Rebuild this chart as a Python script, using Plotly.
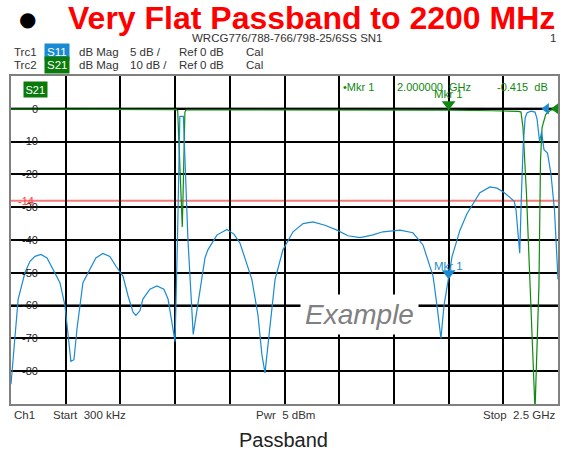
import plotly.graph_objects as go

# ---------------- data ----------------
# S21 (Trc2), frequency in GHz, magnitude in dB (10 dB/div)
s21_freq = [0.0003, 0.1, 0.3, 0.5, 0.7, 0.755, 0.762, 0.772, 0.783, 0.787, 0.795,
            0.800, 0.85, 1.0, 1.25, 1.5, 1.75, 2.0, 2.2, 2.3, 2.320, 2.331, 2.340,
            2.356, 2.372, 2.395, 2.413, 2.420, 2.427, 2.444, 2.468, 2.5]
s21_db = [-0.1, -0.15, -0.2, -0.2, -0.25, -0.25, -0.5, -18, -36, -25, -1,
          -0.3, -0.3, -0.3, -0.35, -0.35, -0.4, -0.415, -0.6, -0.7, -0.8, -1.0, -5.7,
          -26, -53.6, -92, -53.6, -16, -5.7, -1.7, -0.3, -0.3]

# S11 (Trc1), frequency in GHz, magnitude in dB (5 dB/div)
s11_freq = [0.0003, 0.018, 0.033, 0.064, 0.087, 0.110, 0.137, 0.165, 0.201, 0.224,
            0.247, 0.261, 0.274, 0.288, 0.302, 0.329, 0.361, 0.388, 0.420, 0.452,
            0.480, 0.512, 0.535, 0.558, 0.571, 0.590, 0.603, 0.635, 0.667, 0.699,
            0.718, 0.736, 0.750, 0.761, 0.772, 0.788, 0.809, 0.833, 0.856, 0.887,
            0.900, 0.941, 0.987, 1.019, 1.047, 1.101, 1.129, 1.147, 1.161, 1.175,
            1.193, 1.207, 1.243, 1.289, 1.335, 1.380, 1.435, 1.490, 1.540, 1.595,
            1.650, 1.700, 1.778, 1.837, 1.883, 1.929, 1.947, 1.965, 1.979, 2.000,
            2.016, 2.052, 2.084, 2.143, 2.189, 2.221, 2.249, 2.280, 2.300, 2.308,
            2.325, 2.333, 2.341, 2.350, 2.359, 2.377, 2.395, 2.404, 2.416, 2.425,
            2.436, 2.452, 2.468, 2.484, 2.5]
s11_db = [-42, -34.5, -29, -25, -23.25, -22.5, -22.2, -22.75, -24.9, -26.5,
          -30, -35, -38.5, -38.25, -33.5, -26.5, -24.5, -22.75, -22.05, -22.5,
          -24, -25.5, -28.5, -31, -31.5, -30.75, -29, -27.5, -27, -27.5,
          -29, -32.5, -35.5, -20, -1.15, -1.15, -20, -34.4, -29.35, -22.7,
          -21.5, -19.25, -18.4, -19.1, -20.5, -26, -31.5, -37.5, -40.25, -36,
          -30, -26, -21.5, -18.75, -17.5, -17.25, -17.75, -18.5, -19.35, -19.65,
          -19.25, -18.75, -18.5, -18.9, -20.75, -25.5, -30, -35, -30, -26,
          -22.5, -18.5, -16, -12.8, -11.9, -12.1, -12.65, -13.5, -14.1, -15.35,
          -22, -13, -5.5, -1.35, -0.6, -0.35, -0.5, -1.5, -5, -3.5,
          -6.25, -6.75, -10, -15.5, -26]

# marker 1
mkr_freq = [2.0]
mkr_s21 = [-0.415]
mkr_s11 = [-26]

# reference level indicators (right edge, 0 dB)
ref_s11_freq = [2.447]
ref_s21_freq = [2.491]
ref_level = [0]

limit_s11 = -14
s21_ticks = [0, -10, -20, -30, -40, -50, -60, -70, -80]
f_start, f_stop = 0.0003, 2.5

BLUE = "#1a8ad2"
GREEN = "#0e8a0e"
GREEN_BOX = "#0a7a0a"
FONT = "Liberation Sans, Arial, sans-serif"

W, H = 565, 452
L, R, T, B = 11, 7, 76, 48
PW, PH = W - L - R, H - T - B


def px(x):
    return (x - L) / PW


def py(y):
    return (H - B - y) / PH


fig = go.Figure()

fig.add_trace(go.Scatter(x=s11_freq, y=s11_db, yaxis="y2", mode="lines",
                         line=dict(color=BLUE, width=1.2), name="S11"))
fig.add_trace(go.Scatter(x=s21_freq, y=s21_db, yaxis="y", mode="lines",
                         line=dict(color=GREEN, width=1.2), name="S21"))

# markers (tip pointing at the data point)
fig.add_trace(go.Scatter(x=mkr_freq, y=mkr_s21, yaxis="y", mode="markers",
                         marker=dict(symbol="triangle-up", angle=180, size=12,
                                     color=GREEN, standoff=6), cliponaxis=False))
fig.add_trace(go.Scatter(x=mkr_freq, y=mkr_s11, yaxis="y2", mode="markers",
                         marker=dict(symbol="triangle-up", angle=180, size=12,
                                     color=BLUE, standoff=6), cliponaxis=False))
fig.add_trace(go.Scatter(x=ref_s11_freq, y=ref_level, yaxis="y2", mode="markers",
                         marker=dict(symbol="triangle-left", size=10, color=BLUE),
                         cliponaxis=False))
fig.add_trace(go.Scatter(x=ref_s21_freq, y=ref_level, yaxis="y", mode="markers",
                         marker=dict(symbol="triangle-left", size=10, color=GREEN),
                         cliponaxis=False))

fig.update_layout(
    width=W, height=H, margin=dict(l=L, r=R, t=T, b=B, pad=0),
    template="none", showlegend=False,
    paper_bgcolor="white", plot_bgcolor="white",
    font=dict(family=FONT, size=11, color="#333333"),
    xaxis=dict(range=[f_start, f_stop], tick0=f_start, dtick=(f_stop - f_start) / 10,
               showticklabels=False, ticks="", showgrid=True, gridcolor="black",
               gridwidth=1.5, zeroline=False, showline=True, linecolor="#808080",
               linewidth=2, mirror=True, automargin=False),
    yaxis=dict(range=[-90, 10], dtick=10, showticklabels=False, ticks="",
               showgrid=True, gridcolor="black", gridwidth=1.5, zeroline=False,
               showline=True, linecolor="#808080", linewidth=2, mirror=True,
               automargin=False),
    yaxis2=dict(range=[-45, 5], overlaying="y", showgrid=False, zeroline=False,
                showticklabels=False, ticks="", showline=False, automargin=False),
    yaxis3=dict(range=[-90, 10], overlaying="y", anchor="free", position=px(38),
                side="left", showgrid=False, zeroline=False, showline=False,
                ticks="", tickmode="array", tickvals=s21_ticks,
                ticktext=[str(v) for v in s21_ticks],
                tickfont=dict(family=FONT, size=11, color="#222222"),
                automargin=False),
)

# invisible trace to activate the label axis
fig.add_trace(go.Scatter(x=[f_start], y=[0], yaxis="y3", mode="markers",
                         marker=dict(opacity=0), hoverinfo="skip"))

shapes = []
for yv in [0, -60]:
    shapes.append(dict(type="line", xref="paper", x0=0, x1=1, yref="y", y0=yv, y1=yv,
                       line=dict(color="#444444", width=2.5), layer="between"))
shapes.append(dict(type="line", xref="paper", x0=0, x1=1, yref="y2", y0=limit_s11,
                   y1=limit_s11, line=dict(color="#f47a7a", width=2), layer="between"))
fig.update_layout(shapes=shapes)

ann = []


def text(x, y, s, size=11, color="#333333", xanchor="left", family=FONT, **kw):
    ann.append(dict(x=px(x), y=py(y), xref="paper", yref="paper", text=s,
                    showarrow=False, xanchor=xanchor, yanchor="middle",
                    font=dict(family=family, size=size, color=color), **kw))


# title
text(27, 19, "●", size=20, color="black", xanchor="center", family="DejaVu Sans")
text(66, 18, "<b>Very Flat Passband to 2200 MHz</b>", size=32, color="#ff0000")
text(287, 38, "WRCG776/788-766/798-25/6SS SN1", size=11.5, xanchor="center")
text(558, 38, "1", size=11.5, xanchor="right")

# trace header
for yrow, trc, sp, boxc, scale in [(52, "Trc1", "S11", BLUE, "5 dB /"),
                                   (65, "Trc2", "S21", GREEN_BOX, "10 dB /")]:
    text(12, yrow, trc, size=11.5)
    text(57, yrow, sp, size=11.5, color="white", xanchor="center", bgcolor=boxc,
         borderpad=2)
    text(77, yrow, "dB Mag", size=11.5)
    text(128, yrow, scale, size=11.5)
    text(177, yrow, "Ref 0 dB", size=11.5)
    text(244, yrow, "Cal", size=11.5)

# inside plot
text(35, 89.5, "S21", size=11, color="white", xanchor="center", bgcolor=GREEN_BOX,
     borderpad=1.5)
text(341, 87, "•Mkr 1", size=11, color=GREEN)
text(395, 87, "2.000000  GHz", size=11, color=GREEN)
text(495, 87, "-0.415  dB", size=11, color=GREEN)
ann.append(dict(x=mkr_freq[0], y=mkr_s21[0], xref="x", yref="y", text="Mkr 1",
                showarrow=False, yshift=16, font=dict(family=FONT, size=11.5, color=GREEN)))
ann.append(dict(x=mkr_freq[0], y=mkr_s11[0], xref="x", yref="y2", text="Mkr 1",
                showarrow=False, yshift=13, font=dict(family=FONT, size=11.5, color=BLUE)))
ann.append(dict(x=px(36), y=limit_s11, xref="paper", yref="y2", text=str(limit_s11),
                showarrow=False, xanchor="right", yanchor="middle",
                font=dict(family=FONT, size=11, color="#ff4040")))

text(359.5, 314, "<i>Example</i>", size=28, color="#808080", xanchor="center",
     bgcolor="white", borderpad=4)

# footer
text(12, 415, "Ch1", size=11.5)
text(51, 415, "Start  300 kHz", size=11.5)
text(285, 415, "Pwr  5 dBm", size=11.5, xanchor="center")
text(557, 415, "Stop  2.5 GHz", size=11.5, xanchor="right")
text(283, 440, "Passband", size=20, color="#222222", xanchor="center")

fig.update_layout(annotations=ann)
fig.write_html("out.html", config={"displayModeBar": False},
               post_script="document.body.style.margin='0';document.body.style.overflow='hidden';")
